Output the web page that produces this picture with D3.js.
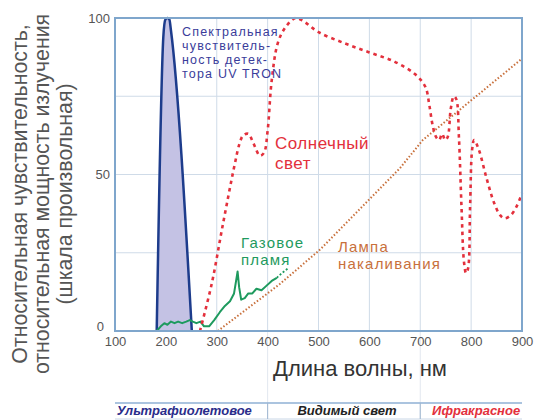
<!DOCTYPE html>
<html><head><meta charset="utf-8">
<script src="https://cdn.jsdelivr.net/npm/d3@7"></script>
<style>
body{margin:0;background:#fff;}
svg{display:block;font-family:Arial,"Liberation Sans",sans-serif;}
</style></head>
<body><div id="chart"></div>
<script>
// ---- data ----
const xTicks = [100,200,300,400,500,600,700,800,900];
const yTicks = [0,50,100];
const yGrid = [25,50,75];
const detectorNm  = [182,195,199,203,207,210,251];
const detectorVal = [0,94,99.5,100,99.5,96,0];
const sunNm  = [267,290,312,335,345,352,362,372,385,393,400,408,420,435,455,470,500,550,600,650,690,710,718,724,731,737,743,749,754,760,766,771,776,781,786,790,794,798,802,806,815,830,845,857,866,878,890,900];
const sunVal = [0,15,34,53,60,62.5,63,60,56,57,64,80,92,97,100,99,95.5,92,89,86,82,78,72,66,62,61,63,61,62,71,75,74,62,40,22,18.5,20,40,58,61,58,49,41,37,36,37,40,44];
const lampNm  = [302,424,503,660,705,900];
const lampVal = [0,15,26,52,61,87];
const gasNm  = [182,190,197,203,210,217,224,232,240,247,253,260,268,275,285,295,306,316,326,334,338,341,344,348,355,362,370,378,388,398,408,418];
const gasVal = [0,1.5,2.5,2,3,2.5,3,2.5,3,3.5,3,2.5,3,1.5,1.5,3.5,6,8,9.5,12,16,19,14,10,10.5,12,12,13.5,13,14.5,16,17];
const gasTailNm  = [418,428,440];
const gasTailVal = [17,18.5,20];
const bandNames = ["Ультрафиолетовое","Видимый свет","Ифракрасное"];
const bandEdges = [100,400,700,900];

const W=534,H=420;
const svg=d3.select("#chart").append("svg").attr("width",W).attr("height",H);
const x=d3.scaleLinear().domain([100,900]).range([115,522]);
const y=d3.scaleLinear().domain([0,100]).range([331,18]);
const zip=(a,b)=>a.map((v,i)=>[v,b[i]]);

// grid
svg.append("g").selectAll("line").data(xTicks.slice(1,-1)).join("line")
  .attr("x1",d=>x(d)).attr("x2",d=>x(d)).attr("y1",y(100)).attr("y2",y(0))
  .attr("stroke","#cfdbe8").attr("stroke-width",1);
svg.append("g").selectAll("line").data(yGrid).join("line")
  .attr("x1",x(100)).attr("x2",x(900)).attr("y1",d=>y(d)).attr("y2",d=>y(d))
  .attr("stroke","#cfdbe8").attr("stroke-width",1);

// faint band separators below plot
svg.append("g").selectAll("line").data(bandEdges.slice(1,-1)).join("line")
  .attr("x1",d=>x(d)).attr("x2",d=>x(d)).attr("y1",y(0)).attr("y2",419)
  .attr("stroke","#e2e7ef").attr("stroke-width",1);

// detector
svg.append("path").datum(zip(detectorNm,detectorVal))
  .attr("d",d3.area().x(d=>x(d[0])).y0(y(0)).y1(d=>y(d[1])).curve(d3.curveMonotoneX))
  .attr("fill","#c4c2e4");
svg.append("path").datum(zip(detectorNm,detectorVal))
  .attr("d",d3.line().x(d=>x(d[0])).y(d=>y(d[1])).curve(d3.curveMonotoneX))
  .attr("fill","none").attr("stroke","#1d3c8c").attr("stroke-width",2.5);

// lamp
svg.append("path").datum(zip(lampNm,lampVal))
  .attr("d",d3.line().x(d=>x(d[0])).y(d=>y(d[1])))
  .attr("fill","none").attr("stroke","#c8703c").attr("stroke-width",2).attr("stroke-dasharray","1.5,2");

// gas
svg.append("path").datum(zip(gasNm,gasVal))
  .attr("d",d3.line().x(d=>x(d[0])).y(d=>y(d[1])))
  .attr("fill","none").attr("stroke","#1e9a5e").attr("stroke-width",2).attr("stroke-linejoin","round");
svg.append("path").datum(zip(gasTailNm,gasTailVal))
  .attr("d",d3.line().x(d=>x(d[0])).y(d=>y(d[1])))
  .attr("fill","none").attr("stroke","#1e9a5e").attr("stroke-width",1.8).attr("stroke-dasharray","2,2");

// sun
svg.append("path").datum(zip(sunNm,sunVal))
  .attr("d",d3.line().x(d=>x(d[0])).y(d=>y(d[1])).curve(d3.curveCatmullRom))
  .attr("fill","none").attr("stroke","#e3303c").attr("stroke-width",2.6).attr("stroke-dasharray","3.5,4");

// frame
svg.append("rect").attr("x",x(100)).attr("y",y(100)).attr("width",x(900)-x(100)).attr("height",y(0)-y(100))
  .attr("fill","none").attr("stroke","#7fa6cc").attr("stroke-width",2);

// axes labels
const xa=svg.append("g").attr("transform",`translate(0,${y(0)+4})`)
  .call(d3.axisBottom(x).tickValues(xTicks).tickSize(0).tickPadding(2).tickFormat(d3.format("d")));
xa.select(".domain").remove();
xa.selectAll("text").attr("font-size",13).attr("fill","#555").attr("font-family","Arial,'Liberation Sans',sans-serif");
const ya=svg.append("g").attr("transform",`translate(${x(100)-4},0)`)
  .call(d3.axisLeft(y).tickValues(yTicks).tickSize(0).tickPadding(1).tickFormat(d3.format("d")));
ya.select(".domain").remove();
ya.selectAll("text").attr("font-size",13).attr("fill","#555").attr("font-family","Arial,'Liberation Sans',sans-serif");
ya.selectAll(".tick").filter(d=>d===0).select("text").attr("dx",-6).attr("dy","-0.05em");

// axis titles
svg.append("text").attr("x",360).attr("y",376).attr("text-anchor","middle")
  .attr("font-size",22).attr("fill","#333").text("Длина волны, нм");
const yt=svg.append("g").attr("transform","translate(0,194) rotate(-90)");
[["Относительная чувствительность,",27],["относительная мощность излучения",49],["(шкала произвольная)",72]].forEach(([t,yy])=>{
  yt.append("text").attr("x",0).attr("y",yy).attr("text-anchor","middle")
    .attr("font-size",21.3).attr("fill","#555").text(t);
});

// annotations
function block(lines,x0,y0,dy,size,ls,color){
  const t=svg.append("text").attr("font-size",size).attr("letter-spacing",ls).attr("fill",color);
  lines.forEach((l,i)=>t.append("tspan").attr("x",x0).attr("y",y0+i*dy).text(l));
}
block(["Спектральная","чувствитель-","ность  детек-","тора UV TRON"],182,36,14,12.5,1.2,"#3a3c9a");
block(["Солнечный","свет"],275,149,19.5,17,0.5,"#e3303c");
block(["Газовое","пламя"],241,248,17,15,1.2,"#1e9a5e");
block(["Лампа","накаливания"],338,252,17,15,1.2,"#c8703c");

// band
svg.append("line").attr("x1",x(100)).attr("x2",x(900)).attr("y1",403).attr("y2",403).attr("stroke","#8fb0d4").attr("stroke-width",1.5);
svg.append("line").attr("x1",x(100)).attr("x2",x(900)).attr("y1",419).attr("y2",419).attr("stroke","#c8d6e6").attr("stroke-width",1);
svg.append("g").selectAll("line").data(bandEdges.slice(1,-1)).join("line")
  .attr("x1",d=>x(d)).attr("x2",d=>x(d)).attr("y1",403).attr("y2",419)
  .attr("stroke","#9fb6d0").attr("stroke-width",1);
const bandColors=["#2a2c8a","#222","#e3303c"];
const bandShift=[-7,3,5];
svg.append("g").selectAll("text").data(bandNames).join("text")
  .attr("x",(d,i)=>(x(bandEdges[i])+x(bandEdges[i+1]))/2+bandShift[i]).attr("y",415)
  .attr("text-anchor","middle").attr("font-size",13).attr("font-weight","bold").attr("font-style","italic")
  .attr("fill",(d,i)=>bandColors[i]).text(d=>d);
</script></body></html>
